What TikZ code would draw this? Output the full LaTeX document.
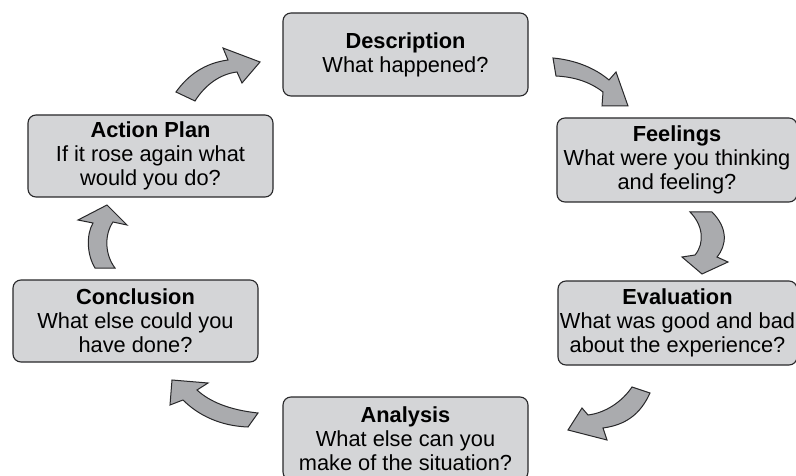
\documentclass[tikz,border=0pt]{standalone}
\usepackage{fontspec}
\setmainfont{Liberation Sans}
\definecolor{boxfill}{RGB}{212,213,215}
\definecolor{arrowfill}{RGB}{170,171,174}
\definecolor{boxline}{RGB}{40,40,42}
\begin{document}
\begin{tikzpicture}[x=1pt,y=-1pt,
  box/.style={draw=boxline, line width=1.1pt, fill=boxfill, rounded corners=8pt,
    align=center, inner sep=0pt, font=\fontsize{21.8}{23.8}\selectfont},
  flow/.style={draw=boxline, line width=1pt, fill=arrowfill, line join=miter}]
\useasboundingbox (0,0) rectangle (796,476);
\fill[white] (0,0) rectangle (796,476);
% boxes
\node[box, minimum width=245pt, minimum height=83pt] (desc) at (405.5,54.5)
  {\textbf{Description}\\What happened?};
\node[box, minimum width=240pt, minimum height=84pt] (feel) at (677,160)
  {\textbf{Feelings}\\What were you thinking\\and feeling?};
\node[box, minimum width=239pt, minimum height=84pt] (eval) at (677.5,323)
  {\textbf{Evaluation}\\What was good and bad\\about the experience?};
\node[box, minimum width=245pt, minimum height=83pt] (anal) at (405.5,438.5)
  {\textbf{Analysis}\\What else can you\\make of the situation?};
\node[box, minimum width=245pt, minimum height=82pt] (concl) at (135.5,321)
  {\textbf{Conclusion}\\What else could you\\have done?};
\node[box, minimum width=245pt, minimum height=82pt] (act) at (150.5,156)
  {\textbf{Action Plan}\\If it rose again what\\would you do?};
% curved block arrows
% Action Plan -> Description
\draw[flow] (176,92) .. controls (188,75) and (205,63) .. (228,60) -- (223,48) -- (260,62)
  -- (242,83) -- (237,72) .. controls (220,74) and (205,85) .. (195,101) -- cycle;
% Description -> Feelings
\draw[flow] (553,58) .. controls (575,60) and (595,68) .. (609,80) -- (616,72) -- (628,106)
  -- (602,106) -- (603,92) .. controls (590,82) and (575,77) .. (556,76) -- cycle;
% Feelings -> Evaluation
\draw[flow] (690,212) -- (712,212) .. controls (728,228) and (727,245) .. (717,257)
  -- (728,262) -- (702,274) -- (682,257) -- (695,255)
  .. controls (705,243) and (703,225) .. (690,212) -- cycle;
% Evaluation -> Analysis
\draw[flow] (632,387) -- (650,393) .. controls (640,415) and (625,425) .. (603,428)
  -- (607,440) -- (568,430) -- (582,408) -- (588,415)
  .. controls (605,413) and (622,402) .. (632,387) -- cycle;
% Analysis -> Conclusion
\draw[flow] (258,413) -- (248,427) .. controls (220,426) and (198,415) .. (183,400)
  -- (170,405) -- (172,380) -- (208,383) -- (197,390)
  .. controls (210,402) and (230,410) .. (258,413) -- cycle;
% Conclusion -> Action Plan
\draw[flow] (95,268) -- (115,268) .. controls (105,255) and (104,235) .. (113,222)
  -- (127,225) -- (107,205) -- (78,220) -- (93,223)
  .. controls (86,235) and (87,255) .. (95,268) -- cycle;
\end{tikzpicture}
\end{document}
